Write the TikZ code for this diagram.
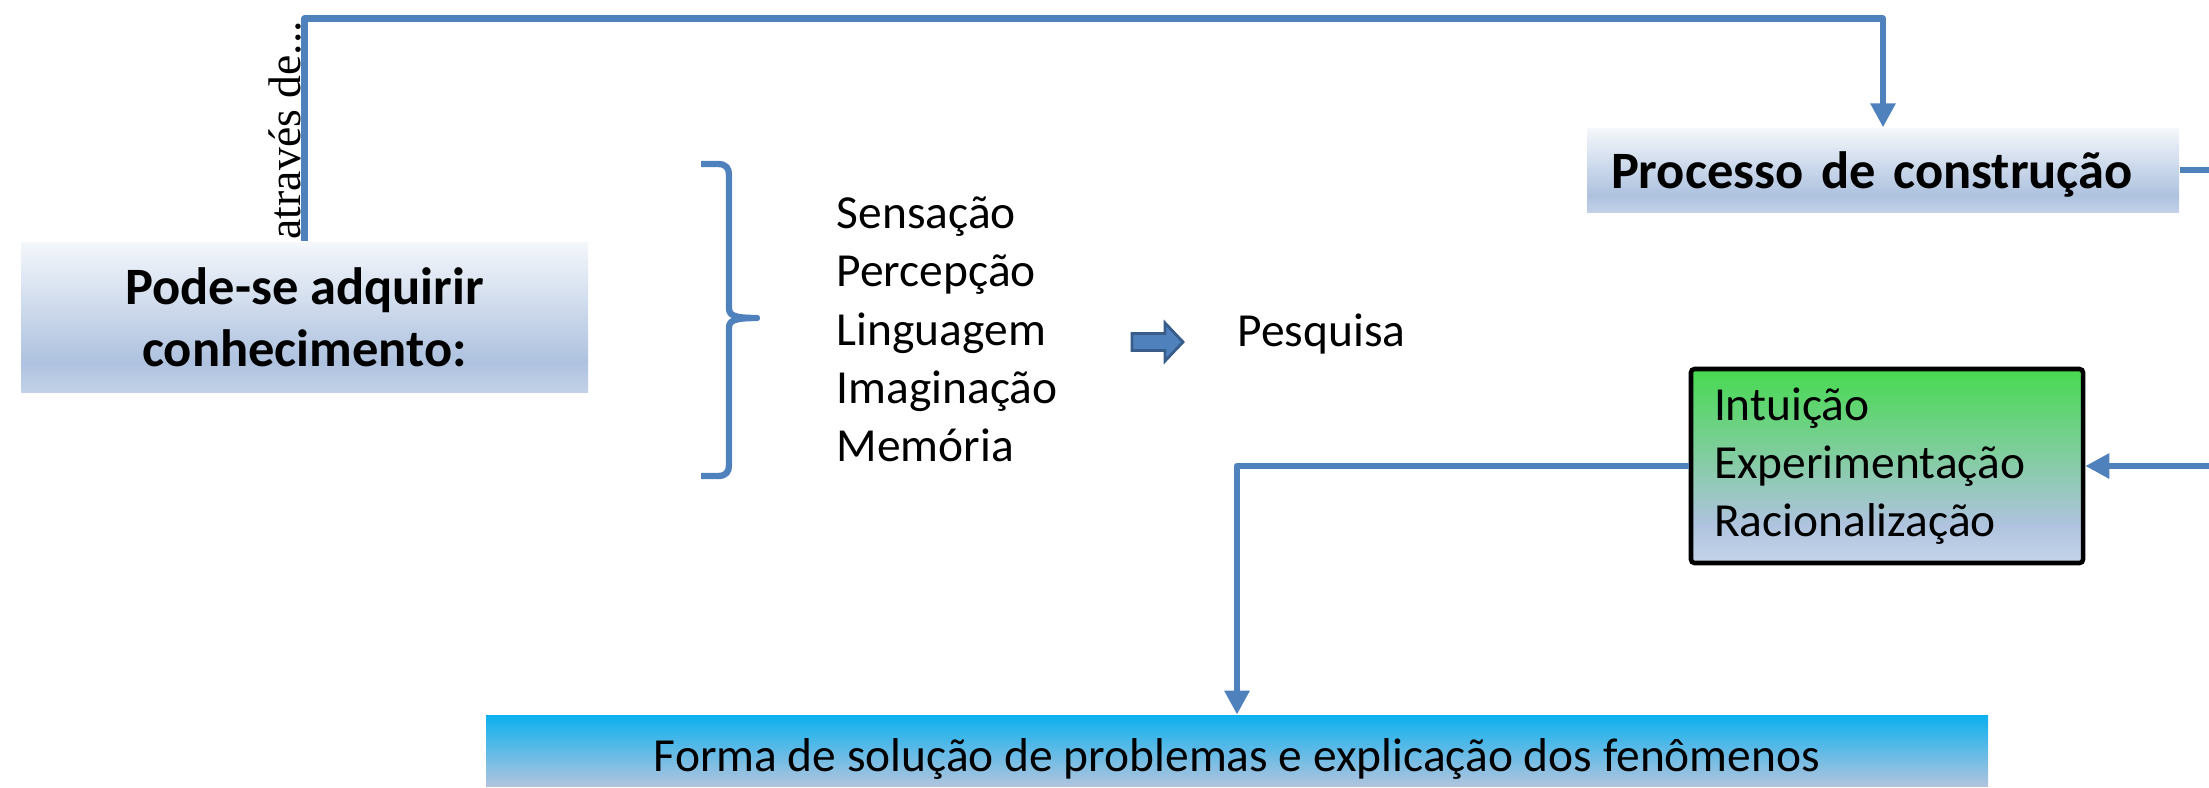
\documentclass[tikz,border=0pt]{standalone}
\usepackage{fontspec}
\setmainfont{Carlito}
\newfontfamily\serifa{Liberation Serif}
\usetikzlibrary{arrows.meta}

\definecolor{linha}{HTML}{4F81BD}
\definecolor{linhaesc}{HTML}{385D8A}
\definecolor{azultopo}{HTML}{F4F7FB}
\definecolor{azulesc}{HTML}{AEC2DF}
\definecolor{azulbase}{HTML}{C2D1E7}
\definecolor{verdetopo}{HTML}{47DA50}
\definecolor{verdeesc}{HTML}{AFC3DE}
\definecolor{verdebase}{HTML}{C5D5EA}
\definecolor{cianotopo}{HTML}{0DB0EE}
\definecolor{cianobase}{HTML}{B2C4DE}

\pgfdeclareverticalshading{caixaazul}{100bp}{color(0bp)=(azulbase); color(25bp)=(azulbase); color(35bp)=(azulesc); color(75bp)=(azultopo); color(100bp)=(azultopo)}
\pgfdeclareverticalshading{caixaverde}{100bp}{color(0bp)=(verdebase); color(25bp)=(verdebase); color(35bp)=(verdeesc); color(75bp)=(verdetopo); color(100bp)=(verdetopo)}

\tikzset{
  conn/.style={draw=linha, line width=1.8pt, line join=round},
  seta/.style={conn, -{Triangle[length=2.4mm,width=2.4mm]}},
  titulo/.style={shading=caixaazul, font=\bfseries\fontsize{14.94}{17.6}\selectfont, inner sep=0pt},
  lista/.style={font=\fontsize{13.5}{16.6}\selectfont, inner sep=0pt, align=left},
}

\begin{document}
\begin{tikzpicture}
\useasboundingbox (0,0) rectangle (22.09,7.87);
\clip (0,0) rectangle (22.09,7.87);

% Caixas
\node[titulo, align=center, minimum width=5.67cm, minimum height=1.50cm] (pode) at (3.045,4.70) {Pode-se adquirir\\conhecimento:};
\node[titulo, text width=5.44cm, inner xsep=0.24cm, align=left, minimum height=0.84cm, text height=0.36cm, text depth=0pt] (proc) at (18.83,6.17) {Processo de construção};
\node[lista, draw=black, line width=1.3pt, rounded corners=1pt, shading=caixaverde, text width=3.46cm, inner xsep=0.23cm, minimum width=3.92cm, minimum height=1.94cm] (intu) at (18.87,3.21) {Intuição\\Experimentação\\Racionalização};
\node[top color=cianotopo, bottom color=cianobase, font=\fontsize{13.5}{16.6}\selectfont, minimum width=15.02cm, minimum height=0.71cm, inner ysep=0pt, text height=0.41cm, text depth=0pt, anchor=south] (forma) at (12.37,0) {Forma de solução de problemas e explicação dos fenômenos};

% Textos
\node[lista, anchor=north west] (sentidos) at (8.36,5.91) {Sensação\\Percepção\\Linguagem\\Imaginação\\Memória};
\node[lista, anchor=base west] (pesq) at (12.37,4.41) {Pesquisa};
\node[font=\serifa\fontsize{13}{15.6}\selectfont, rotate=90, anchor=base west, inner sep=0pt] (via) at (3.00,5.47) {através de...};

% Chave
\draw[conn] (7.01,6.23) -- (7.18,6.23) .. controls (7.26,6.23) and (7.29,6.19) .. (7.29,6.12) -- (7.29,4.79) .. controls (7.29,4.72) and (7.33,4.69) .. (7.57,4.69) .. controls (7.33,4.69) and (7.29,4.66) .. (7.29,4.59) -- (7.29,3.22) .. controls (7.29,3.15) and (7.26,3.11) .. (7.18,3.11) -- (7.01,3.11);

% Seta larga
\draw[draw=linhaesc, fill=linha, line width=0.8pt] (11.32,4.535) -- (11.65,4.535) -- (11.65,4.64) -- (11.83,4.45) -- (11.65,4.26) -- (11.65,4.365) -- (11.32,4.365) -- cycle;

% Ligacoes
\coordinate (alto) at (0,7.685);
\coordinate (dir) at (22.30,0);
\draw[seta] (pode.north) |- (proc.north |- alto) -- (proc.north);
\draw[conn] (proc.east) -- (proc.east -| dir);
\draw[seta] (intu.east -| dir) -- (intu.east);
\draw[seta] (intu.west) -| (forma.north);

\end{tikzpicture}
\end{document}
